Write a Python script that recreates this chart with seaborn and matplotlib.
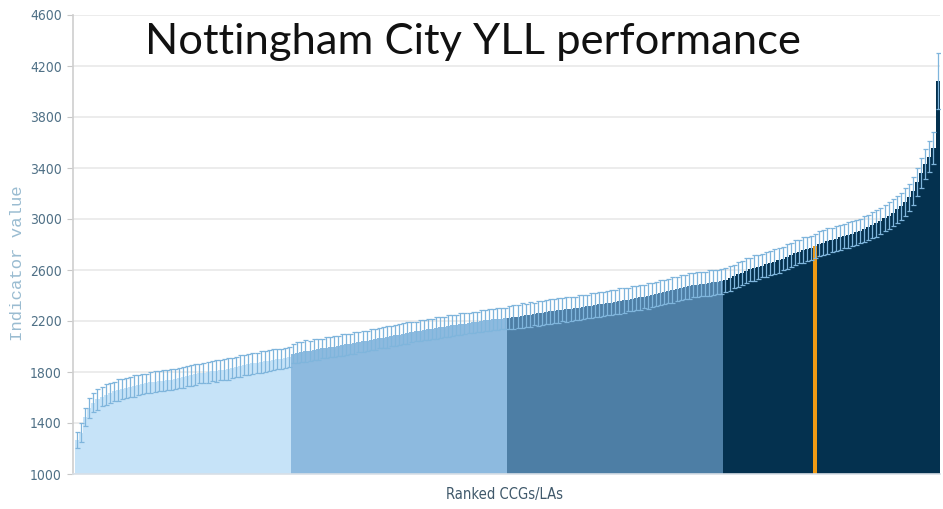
import matplotlib
matplotlib.use("Agg")
import matplotlib.pyplot as plt
import seaborn as sns
import pandas as pd
import numpy as np

# ---- data (ranked indicator values, YLL) ----
q1_values = [1267, 1325, 1450, 1520, 1560, 1585, 1605, 1622, 1638, 1649,
             1658, 1667, 1675, 1681, 1690, 1698, 1705, 1711, 1718, 1724,
             1728, 1732, 1736, 1741, 1745, 1751, 1759, 1767, 1774, 1782,
             1789, 1794, 1799, 1805, 1809, 1814, 1818, 1823, 1830, 1839,
             1847, 1855, 1861, 1867, 1873, 1878, 1884, 1890, 1895, 1900,
             1905, 1910, 1916]
q2_values = [1945, 1951, 1958, 1963, 1968, 1974, 1979, 1985, 1990, 1995,
             2000, 2006, 2010, 2016, 2022, 2028, 2033, 2040, 2046, 2052,
             2057, 2064, 2070, 2076, 2081, 2088, 2094, 2100, 2106, 2112,
             2118, 2124, 2129, 2135, 2140, 2145, 2150, 2155, 2160, 2165,
             2170, 2175, 2180, 2185, 2190, 2195, 2199, 2204, 2208, 2212,
             2216, 2219, 2222]
q3_values = [2225, 2230, 2235, 2240, 2245, 2250, 2255, 2260, 2265, 2270,
             2275, 2280, 2284, 2288, 2292, 2296, 2300, 2305, 2310, 2315,
             2320, 2325, 2330, 2335, 2340, 2345, 2350, 2356, 2362, 2368,
             2374, 2380, 2386, 2392, 2398, 2405, 2412, 2420, 2428, 2436,
             2444, 2452, 2460, 2468, 2474, 2480, 2485, 2490, 2494, 2498,
             2502, 2507, 2512]
q4_values = [2520, 2535, 2550, 2565, 2580, 2595, 2605, 2615, 2625, 2635,
             2645, 2655, 2665, 2675, 2690, 2705, 2720, 2735, 2745, 2755,
             2765, 2775, 2790, 2805, 2815, 2825, 2835, 2845, 2855, 2865,
             2875, 2885, 2895, 2905, 2920, 2935, 2950, 2965, 2985, 3005,
             3025, 3050, 3075, 3100, 3130, 3170, 3220, 3290, 3360, 3430,
             3490, 3560, 4080]

q1_err = [65, 72, 70, 78, 75, 80, 74, 82, 79, 76, 85, 78, 80, 77, 83, 79, 81,
          76, 84, 80, 78, 82, 77, 85, 80, 79, 83, 78, 81, 84, 77, 80, 82, 79,
          85, 78, 81, 83, 80, 77, 84, 79, 82, 80, 78, 85, 81, 79, 83, 80, 78,
          82, 80]
q2_err = [78, 82, 80, 85, 79, 83, 81, 77, 84, 80, 82, 79, 86, 81, 78, 83, 80,
          85, 79, 82, 84, 78, 81, 86, 80, 83, 79, 82, 85, 80, 78, 84, 81, 83,
          79, 86, 82, 80, 84, 81, 78, 85, 83, 80, 82, 79, 86, 81, 84, 80, 83,
          85, 82]
q3_err = [90, 95, 88, 98, 92, 96, 90, 99, 94, 91, 97, 93, 96, 90, 98, 95, 92,
          99, 94, 91, 96, 93, 100, 95, 92, 97, 94, 99, 96, 91, 98, 94, 97, 92,
          100, 95, 93, 98, 96, 94, 99, 92, 97, 95, 100, 93, 98, 96, 94, 99,
          97, 95, 98]
q4_err = [92, 96, 90, 98, 94, 97, 91, 99, 95, 93, 98, 94, 100, 96, 92, 99,
          95, 97, 93, 101, 96, 94, 95, 99, 97, 102, 95, 98, 100, 96, 103, 98,
          101, 97, 104, 99, 102, 105, 100, 103, 106, 104, 108, 105, 110, 107,
          112, 110, 115, 118, 120, 125, 220]

group_names = ["Quartile 1", "Quartile 2", "Quartile 3", "Quartile 4"]
highlight_rank = 181          # Nottingham City (0-based rank)
highlight_name = "Nottingham City"

title_text = "Nottingham City YLL performance"
x_label = "Ranked CCGs/LAs"
y_label = "Indicator value"
y_ticks = [1000, 1400, 1800, 2200, 2600, 3000, 3400, 3800, 4200, 4600]

# ---- build table ----
values = q1_values + q2_values + q3_values + q4_values
errs = q1_err + q2_err + q3_err + q4_err
groups = ([group_names[0]] * len(q1_values) + [group_names[1]] * len(q2_values)
          + [group_names[2]] * len(q3_values) + [group_names[3]] * len(q4_values))
groups[highlight_rank] = highlight_name
df = pd.DataFrame({"rank": np.arange(len(values)), "value": values,
                   "err": errs, "group": groups})

palette = {group_names[0]: "#C6E3F8", group_names[1]: "#8DBADF",
           group_names[2]: "#4D7EA5", group_names[3]: "#04314F",
           highlight_name: "#F09A14"}

sns.set_theme(style="white")
plt.rcParams["font.family"] = ["DejaVu Sans"]

fig = plt.figure(figsize=(9.43, 5.09), dpi=100)
ax = fig.add_axes([73 / 943, 1 - 474 / 509, (940 - 73) / 943, (474 - 15) / 509])

sns.barplot(data=df, x="rank", y="value", hue="group", palette=palette,
            dodge=False, width=1.0, linewidth=0, legend=False, ax=ax,
            errorbar=None, saturation=1, zorder=2)
for p in ax.patches:
    p.set_edgecolor("none")

ax.errorbar(df["rank"], df["value"], yerr=df["err"], fmt="none",
            ecolor="#7FB5DC", elinewidth=0.9, capsize=1.8, capthick=0.9,
            zorder=3)

ax.set_xlim(-1.0, len(values) - 0.4)
ax.set_ylim(1000, 4600)
ax.set_yticks(y_ticks)
ax.set_yticklabels([str(t) for t in y_ticks], fontsize=10, fontstretch="condensed",
                   color="#4F7086")
ax.set_xticks([])
ax.tick_params(axis="y", length=4, width=0.8, color="#C8C8C8", pad=4, left=True)
ax.yaxis.grid(True, color="#ECECEC", linewidth=1.4, zorder=0)
ax.set_axisbelow(True)
for side in ["top", "right"]:
    ax.spines[side].set_visible(False)
ax.spines["left"].set_color("#D0D0D0")
ax.spines["bottom"].set_color("#D8DFE6")
ax.spines["bottom"].set_linewidth(1.2)

ax.set_xlabel("")
ax.set_ylabel("")
fig.text(505 / 943, 1 - 495 / 509, x_label, fontsize=10.5, fontstretch="condensed",
         color="#40596B", ha="center", va="center")
fig.text(18 / 943, 1 - 263 / 509, y_label, family="Liberation Mono",
         fontsize=12.5, color="#9ABCD1", rotation=90, ha="center", va="center")
fig.text(145 / 943, 1 - 42 / 509, title_text, family="Lato", fontsize=31.3,
         color="#111111", ha="left", va="center")

fig.savefig("out.png", dpi=100)
